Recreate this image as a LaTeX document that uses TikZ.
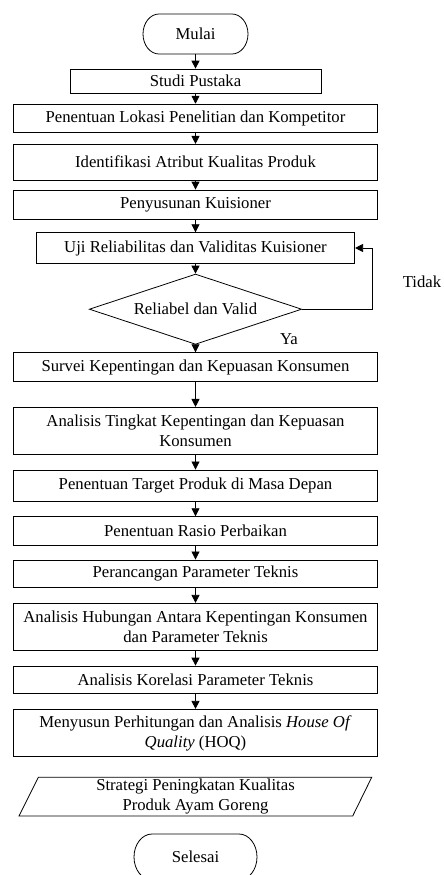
\documentclass[tikz,border=0pt]{standalone}
\usepackage{fontspec}
\setmainfont{Liberation Serif}
\usetikzlibrary{shapes.geometric,arrows.meta}
\begin{document}
\begin{tikzpicture}[x=1pt,y=-1pt,
  txt/.style={font=\fontsize{16.7}{20}\selectfont},
  box/.style={txt, draw, line width=0.8pt, minimum width=364.4pt, inner sep=0pt, align=center},
  arr/.style={draw, line width=0.8pt, -{Triangle[length=8pt,width=8pt]}},
  lbl/.style={txt, inner sep=0pt, align=center},
  outline/.style={draw, line width=0.8pt}]
\useasboundingbox (0,0) rectangle (444,875);

% terminals
\node[lbl, minimum width=105pt, minimum height=40pt] (mulai) at (195.5,34) {Mulai};
\draw[outline] (159,14) -- (232,14) .. controls (240.84,14) and (248,22.95) .. (248,34)
  .. controls (248,45.05) and (240.84,54) .. (232,54) -- (159,54)
  .. controls (150.16,54) and (143,45.05) .. (143,34)
  .. controls (143,22.95) and (150.16,14) .. (159,14) -- cycle;

\node[box, minimum width=251pt, minimum height=24.3pt] (studi) at (195.5,81.2) {Studi Pustaka};
\node[box, minimum height=28.7pt] (lokasi) at (195.5,118.5) {Penentuan Lokasi Penelitian dan Kompetitor};
\node[box, minimum height=35.7pt] (atribut) at (195.5,162.2) {Identifikasi Atribut Kualitas Produk};
\node[box, minimum height=29pt] (kuis) at (195.5,204.5) {Penyusunan Kuisioner};
\node[box, minimum width=318.3pt, minimum height=30.6pt] (uji) at (195.5,248) {Uji Reliabilitas dan Validitas Kuisioner};
\node[txt, diamond, draw, line width=0.8pt, aspect=3.02, minimum width=212.4pt, minimum height=70.3pt, inner sep=0pt] (dia) at (195.5,309.2) {Reliabel dan Valid};
\node[box, minimum height=29pt] (survei) at (195.5,367.2) {Survei Kepentingan dan Kepuasan Konsumen};
\node[box, minimum height=46.7pt] (tingkat) at (195.5,430.7) {Analisis Tingkat Kepentingan dan Kepuasan\\Konsumen};
\node[box, minimum height=31.7pt] (target) at (195.5,485.8) {Penentuan Target Produk di Masa Depan};
\node[box, minimum height=28.3pt] (rasio) at (195.5,530.8) {Penentuan Rasio Perbaikan};
\node[box, minimum height=27.7pt] (param) at (195.5,573.8) {Perancangan Parameter Teknis};
\node[box, minimum height=47.4pt] (hub) at (195.5,627) {Analisis Hubungan Antara Kepentingan Konsumen\\dan Parameter Teknis};
\node[box, minimum height=27.3pt] (korel) at (195.5,679.7) {Analisis Korelasi Parameter Teknis};
\node[box, minimum height=47.4pt] (hoq) at (195.5,733) {Menyusun Perhitungan dan Analisis \textit{House Of}\\\textit{Quality} (HOQ)};

% output parallelogram
\node[lbl] (strat) at (195.5,796.7) {Strategi Peningkatan Kualitas\\Produk Ayam Goreng};
\draw[outline] (38.3,777.3) -- (371.7,777.3) -- (352.7,816) -- (19,816) -- cycle;

\node[lbl, minimum width=123pt, minimum height=46pt] (selesai) at (195.5,857) {Selesai};
\draw[outline] (152,834) -- (239,834) .. controls (248.94,834) and (257,844.3) .. (257,857)
  .. controls (257,869.7) and (248.94,880) .. (239,880) -- (152,880)
  .. controls (142.06,880) and (134,869.7) .. (134,857)
  .. controls (134,844.3) and (142.06,834) .. (152,834) -- cycle;

% labels
\node[lbl] (tidak) at (422,282) {Tidak};
\node[lbl] (ya) at (289,339) {Ya};

% connectors
\draw[arr] (mulai.south) -- (studi.north);
\draw[arr] (studi.south) -- (lokasi.north);
\draw[arr] (lokasi.south) -- (atribut.north);
\draw[arr] (atribut.south) -- (kuis.north);
\draw[arr] (kuis.south) -- (uji.north);
\draw[arr] (uji.south) -- (dia.north);
\draw[arr] (dia.south) -- (survei.north);
\coordinate (loopc) at (372.7,309.2);
\draw[arr] (dia.east) -- (loopc) |- (uji.east);
\draw[arr] (survei.south) -- (tingkat.north);
\draw[arr] (tingkat.south) -- (target.north);
\draw[arr] (target.south) -- (rasio.north);
\draw[arr] (rasio.south) -- (param.north);
\draw[arr] (param.south) -- (hub.north);
\draw[arr] (hub.south) -- (korel.north);
\draw[arr] (korel.south) -- (hoq.north);
\end{tikzpicture}
\end{document}
